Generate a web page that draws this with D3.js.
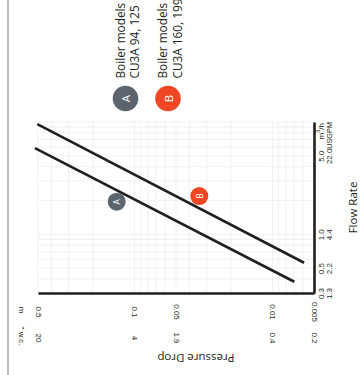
<!DOCTYPE html>
<html>
<head>
<meta charset="utf-8">
<script src="https://cdn.jsdelivr.net/npm/d3@7"></script>
<style>
  html, body { margin: 0; padding: 0; background: #fff; }
  svg { display: block; font-family: "Open Sans", "Noto Sans", sans-serif; }
</style>
</head>
<body>
<svg id="chart" width="363" height="375"></svg>
<script>
// Flow rate axis (drawn vertically, increasing upward)
const flowDomain = [0.3, 10];
const flowTicks = [0.3, 0.5, 1.0, 5.0];
const flowTickM3h = ["0.3", "0.5", "1.0", "5.0"];
const flowTickGpm = ["1.3", "2.2", "4.4", "22.0"];

// Pressure drop axis (drawn horizontally, decreasing to the right)
const pressureDomain = [0.5, 0.005];
const pressureTicks = [0.5, 0.1, 0.05, 0.01, 0.005];
const pressureTickM = ["0.5", "0.1", "0.05", "0.01", "0.005"];
const pressureTickWc = ["20", "4", "1.9", "0.4", "0.2"];

// Boiler curves: flow (m³/h) vs pressure drop (m)
const curveAFlow = [5.86, 0.378];
const curveAPressure = [0.526, 0.00695];
const curveBFlow = [9.59, 0.558];
const curveBPressure = [0.506, 0.0059];

// Curve tags
const tagNames = ["A", "B"];
const tagFlow = [1.95, 2.19];
const tagPressure = [0.1345, 0.0339];
const tagColors = ["#5c656e", "#ef4623"];

// Legend entries
const legendLine1 = ["Boiler models", "Boiler models"];
const legendLine2 = ["CU3A 94, 125", "CU3A 160, 199"];

const svg = d3.select("#chart");
const ink = "#231f20";
const tickFont = 8;

const x = d3.scaleLog().domain(pressureDomain).range([38, 314]);
const y = d3.scaleLog().domain(flowDomain).range([293, 122]);

// page margin rule
svg.append("line")
  .attr("x1", 8).attr("x2", 8).attr("y1", 0).attr("y2", 375)
  .attr("stroke", "#bdbdbd").attr("stroke-width", 2);

// log grid
function logGrid(lo, hi) {
  const out = [];
  for (let e = -4; e <= 2; e++) {
    for (let k = 1; k <= 9; k++) {
      const v = k * Math.pow(10, e);
      if (v >= lo * 0.9999 && v <= hi * 1.0001) out.push(v);
    }
  }
  return out;
}
const grid = svg.append("g").attr("stroke", "#ebebeb").attr("stroke-width", 0.7);
grid.selectAll("line.gp").data(logGrid(0.005, 0.5)).join("line")
  .attr("class", "gp")
  .attr("x1", d => x(d)).attr("x2", d => x(d))
  .attr("y1", y(flowDomain[0])).attr("y2", y(flowDomain[1]));
grid.selectAll("line.gf").data(logGrid(0.3, 10)).join("line")
  .attr("class", "gf")
  .attr("x1", x(pressureDomain[0])).attr("x2", x(pressureDomain[1]))
  .attr("y1", d => y(d)).attr("y2", d => y(d));

// curves
const line = d3.line().x(d => x(d[1])).y(d => y(d[0]));
[[curveAFlow, curveAPressure], [curveBFlow, curveBPressure]].forEach(([f, p]) => {
  svg.append("path")
    .datum(f.map((v, i) => [v, p[i]]))
    .attr("d", line)
    .attr("fill", "none")
    .attr("stroke", ink)
    .attr("stroke-width", 2.6);
});

// flow axis on the right
const flowAxis = svg.append("g")
  .attr("transform", `translate(${x(pressureDomain[1])},0)`)
  .call(d3.axisRight(y).tickValues(flowTicks).tickSize(0).tickSizeOuter(0)
    .tickFormat((d, i) => flowTickM3h[i]));
flowAxis.select(".domain").attr("stroke", ink).attr("stroke-width", 2.6);
flowAxis.selectAll(".tick text")
  .attr("x", null).attr("dy", null)
  .attr("transform", "translate(7,0) rotate(-90)")
  .attr("text-anchor", "middle")
  .attr("dominant-baseline", "central")
  .attr("font-size", tickFont).attr("fill", ink)
  .attr("font-family", null);
flowAxis.selectAll(".tick").append("text")
  .text((d, i) => flowTickGpm[i])
  .attr("transform", "translate(15,0) rotate(-90)")
  .attr("text-anchor", "middle")
  .attr("dominant-baseline", "central")
  .attr("font-size", tickFont).attr("fill", ink);
flowAxis.append("text")
  .attr("transform", `translate(7,${y(flowDomain[1]) + 1}) rotate(-90)`)
  .attr("text-anchor", "end").attr("dominant-baseline", "central")
  .attr("font-size", tickFont).attr("fill", ink)
  .html("m<tspan dy=\"-3\" font-size=\"5.5\">3</tspan><tspan dy=\"3\">/h</tspan>");
flowAxis.append("text")
  .attr("transform", `translate(15,${y(flowDomain[1])}) rotate(-90)`)
  .attr("text-anchor", "end").attr("dominant-baseline", "central")
  .attr("font-size", 7.3).attr("fill", ink)
  .text("USGPM");

// pressure axis at the bottom
const pAxis = svg.append("g")
  .attr("transform", `translate(0,${y(flowDomain[0])})`)
  .call(d3.axisBottom(x).tickValues(pressureTicks).tickSize(0).tickSizeOuter(0)
    .tickFormat((d, i) => pressureTickM[i]));
pAxis.select(".domain").attr("stroke", ink).attr("stroke-width", 2.6);
pAxis.selectAll(".tick text")
  .attr("y", null).attr("dy", null)
  .attr("transform", "translate(0,19) rotate(90)")
  .attr("text-anchor", "middle")
  .attr("dominant-baseline", "central")
  .attr("font-size", tickFont).attr("fill", ink)
  .attr("font-family", null);
pAxis.selectAll(".tick").append("text")
  .text((d, i) => pressureTickWc[i])
  .attr("transform", "translate(0,45) rotate(90)")
  .attr("text-anchor", "middle")
  .attr("dominant-baseline", "central")
  .attr("font-size", tickFont).attr("fill", ink);
pAxis.append("text")
  .attr("transform", `translate(${x(pressureDomain[0]) - 17},17) rotate(90)`)
  .attr("text-anchor", "middle").attr("dominant-baseline", "central")
  .attr("font-size", tickFont).attr("fill", ink).text("m");
pAxis.append("text")
  .attr("transform", `translate(${x(pressureDomain[0]) - 17},43) rotate(90)`)
  .attr("text-anchor", "middle").attr("dominant-baseline", "central")
  .attr("font-size", tickFont).attr("fill", ink).text("\" w.c.");

// axis titles
svg.append("text")
  .attr("transform", "translate(196,358) rotate(180)")
  .attr("text-anchor", "middle").attr("dominant-baseline", "central")
  .attr("font-size", 11.5).attr("fill", ink).text("Pressure Drop");
svg.append("text")
  .attr("transform", `translate(352,${(y(flowDomain[0]) + y(flowDomain[1])) / 2}) rotate(-90)`)
  .attr("text-anchor", "middle").attr("dominant-baseline", "central")
  .attr("font-size", 11.5).attr("fill", ink).text("Flow Rate");

// curve tags
const tags = svg.selectAll("g.tag").data(tagNames).join("g")
  .attr("class", "tag")
  .attr("transform", (d, i) => `translate(${x(tagPressure[i])},${y(tagFlow[i])})`);
tags.append("circle").attr("r", 9).attr("fill", (d, i) => tagColors[i]);
tags.append("text")
  .attr("transform", "rotate(-90)")
  .attr("text-anchor", "middle").attr("dominant-baseline", "central")
  .attr("font-size", 8.5).attr("fill", "#fff").text(d => d);

// legend
const legendX = [125.5, 168];
const leg = svg.selectAll("g.leg").data(tagNames).join("g")
  .attr("class", "leg")
  .attr("transform", (d, i) => `translate(${legendX[i]},98.5)`);
leg.append("circle").attr("r", 12.8).attr("fill", (d, i) => tagColors[i]);
leg.append("text")
  .attr("transform", "rotate(-90)")
  .attr("text-anchor", "middle").attr("dominant-baseline", "central")
  .attr("font-size", 11.5).attr("fill", "#fff").text(d => d);
leg.append("text")
  .attr("transform", "translate(-1,-20) rotate(-90)")
  .attr("font-size", 11.8).attr("fill", ink)
  .text((d, i) => legendLine1[i]);
leg.append("text")
  .attr("transform", "translate(13.5,-20) rotate(-90)")
  .attr("font-size", 11.8).attr("fill", ink)
  .text((d, i) => legendLine2[i]);
</script>
</body>
</html>
